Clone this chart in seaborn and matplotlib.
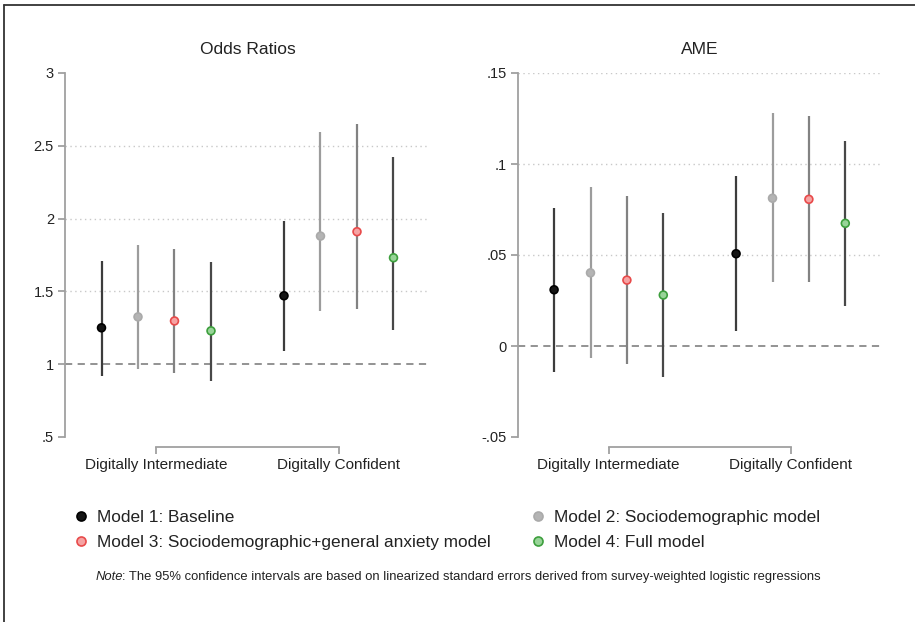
import matplotlib
matplotlib.use("Agg")
import matplotlib.pyplot as plt
from matplotlib.lines import Line2D
import numpy as np
import pandas as pd
import seaborn as sns

# ---------------- data ----------------
categories = ["Digitally Intermediate", "Digitally Confident"]
models = ["Model 1: Baseline",
          "Model 2: Sociodemographic model",
          "Model 3: Sociodemographic+general anxiety model",
          "Model 4: Full model"]

# Odds ratios (per model, for each category)
or_est_inter = [1.25, 1.325, 1.297, 1.229]
or_lo_inter = [0.917, 0.970, 0.940, 0.884]
or_hi_inter = [1.706, 1.818, 1.793, 1.700]
or_est_conf = [1.470, 1.880, 1.910, 1.731]
or_lo_conf = [1.094, 1.362, 1.376, 1.238]
or_hi_conf = [1.981, 2.598, 2.651, 2.426]

# Average marginal effects
ame_est_inter = [0.0309, 0.0402, 0.0362, 0.0280]
ame_lo_inter = [-0.0143, -0.0067, -0.0100, -0.0173]
ame_hi_inter = [0.0759, 0.0872, 0.0826, 0.0729]
ame_est_conf = [0.0507, 0.0812, 0.0806, 0.0674]
ame_lo_conf = [0.0082, 0.0350, 0.0351, 0.0219]
ame_hi_conf = [0.0935, 0.1280, 0.1265, 0.1127]

or_ticks = [0.5, 1, 1.5, 2, 2.5, 3]
or_ticklabels = [".5", "1", "1.5", "2", "2.5", "3"]
ame_ticks = [-0.05, 0, 0.05, 0.10, 0.15]
ame_ticklabels = ["-.05", "0", ".05", ".1", ".15"]

# ---------------- styles ----------------
point_face = ["#151515", "#b4b4b4", "#f5a3a3", "#98d498"]
point_edge = ["#000000", "#aaaaaa", "#e84a4a", "#3d9f3d"]
ci_color = ["#3c3c3c", "#9c9c9c", "#828282", "#484848"]
axis_gray = "#a0a0a0"

sns.set_theme(style="white")
plt.rcParams["font.family"] = ["Liberation Sans", "DejaVu Sans"]
plt.rcParams["text.color"] = "#222222"


def build_frame(est_i, lo_i, hi_i, est_c, lo_c, hi_c):
    rows = []
    for gi, (est, lo, hi) in enumerate([(est_i, lo_i, hi_i), (est_c, lo_c, hi_c)]):
        for mi, m in enumerate(models):
            rows.append({"category": categories[gi], "model": m,
                         "pos": gi * 5 + mi + 1,
                         "est": est[mi], "lo": lo[mi], "hi": hi[mi]})
    return pd.DataFrame(rows)


df_or = build_frame(or_est_inter, or_lo_inter, or_hi_inter,
                    or_est_conf, or_lo_conf, or_hi_conf)
df_ame = build_frame(ame_est_inter, ame_lo_inter, ame_hi_inter,
                     ame_est_conf, ame_lo_conf, ame_hi_conf)

fig = plt.figure(figsize=(9.15, 6.22), dpi=100)
ax1 = fig.add_axes([65 / 915, 1 - 437 / 622, 365 / 915, 364 / 622])
ax2 = fig.add_axes([517.7 / 915, 1 - 437 / 622, 364 / 915, 364 / 622])


def draw_panel(ax, df, ticks, ticklabels, grid_vals, ref, title):
    for y in grid_vals:
        ax.axhline(y, color="#c8c8c8", lw=1.0, ls=(0, (1, 2.5)), zorder=0)
    ax.axhline(ref, color="#8a8a8a", lw=1.3, ls=(0, (4, 3)), zorder=1)
    for mi, m in enumerate(models):
        sub = df[df["model"] == m]
        ax.vlines(sub["pos"], sub["lo"], sub["hi"], color=ci_color[mi],
                  lw=1.6, zorder=2)
    sns.scatterplot(data=df, x="pos", y="est", hue="model",
                    palette=dict(zip(models, point_face)), s=32,
                    edgecolor=[point_edge[models.index(m)] for m in df["model"]],
                    linewidth=1.2, legend=False, ax=ax, zorder=3)
    ax.set_xlim(0, 10)
    ax.set_ylim(ticks[0], ticks[-1])
    ax.set_yticks(ticks)
    ax.set_yticklabels(ticklabels, fontsize=10.5)
    ax.set_xticks([2.5, 7.5])
    ax.set_xticklabels(categories, fontsize=9.2)
    ax.set_xlabel("")
    ax.set_ylabel("")
    ax.set_title(title, fontsize=12.5, pad=14)
    for s in ["top", "right"]:
        ax.spines[s].set_visible(False)
    ax.spines["left"].set_color(axis_gray)
    ax.spines["left"].set_linewidth(1.3)
    ax.spines["left"].set_bounds(ticks[0], ticks[-1])
    ax.spines["bottom"].set_color(axis_gray)
    ax.spines["bottom"].set_linewidth(1.3)
    ax.spines["bottom"].set_position(("outward", 7))
    ax.spines["bottom"].set_bounds(2.5, 7.5)
    ax.tick_params(axis="both", which="major", direction="out", length=5,
                   width=1.3, color=axis_gray, labelcolor="#222222", pad=3,
                   left=True, bottom=True)
    ax.tick_params(axis="x", length=5, pad=3)


draw_panel(ax1, df_or, or_ticks, or_ticklabels, [1.5, 2, 2.5], 1, "Odds Ratios")
draw_panel(ax2, df_ame, ame_ticks, ame_ticklabels, [0.05, 0.10, 0.15], 0, "AME")

# ---------------- legend ----------------
handles = []
for mi, m in enumerate(models):
    handles.append(Line2D([], [], ls="none", marker="o", markersize=6.5,
                          markerfacecolor=point_face[mi],
                          markeredgecolor=point_edge[mi],
                          markeredgewidth=1.2, label=m))
order = [0, 2, 1, 3]
leg = fig.legend([handles[i] for i in order], [models[i] for i in order],
                 ncol=2, loc="upper left", bbox_to_anchor=(72.5 / 915, 1 - 510 / 622),
                 frameon=False, fontsize=12.4, handlelength=1.0,
                 handletextpad=0.45, columnspacing=2.2, labelspacing=0.55,
                 borderaxespad=0, borderpad=0)

# ---------------- note ----------------
t1 = fig.text(96 / 915, 1 - 577 / 622, "Note", fontsize=9.4, style="italic",
              va="center", ha="left", color="#222222")
fig.canvas.draw()
bb = t1.get_window_extent()
x_end = (bb.x1 - 1.5) / fig.bbox.width
fig.text(x_end, 1 - 577 / 622,
         ": The 95% confidence intervals are based on linearized standard errors "
         "derived from survey-weighted logistic regressions",
         fontsize=9.4, va="center", ha="left", color="#222222")

# ---------------- frame (top and left edges) ----------------
fig.add_artist(Line2D([3.5 / 915, 3.5 / 915], [0, 1 - 4.5 / 622],
                      color="#333333", lw=1.3, transform=fig.transFigure))
fig.add_artist(Line2D([3.5 / 915, 1], [1 - 4.5 / 622, 1 - 4.5 / 622],
                      color="#333333", lw=1.3, transform=fig.transFigure))

fig.savefig("out.png", dpi=100)
